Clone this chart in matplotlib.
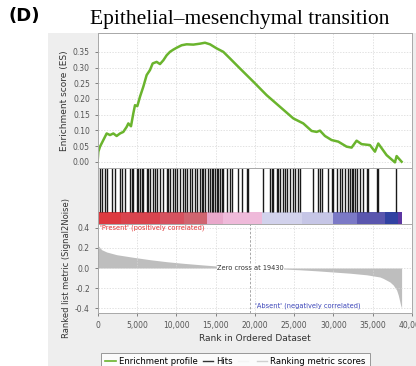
import matplotlib
matplotlib.use('Agg')
import matplotlib.pyplot as plt
from matplotlib.patches import Rectangle
from matplotlib.lines import Line2D
from matplotlib.ticker import FuncFormatter, MultipleLocator

# Running enrichment score (rank, ES)
es_rank = [0, 93, 305, 730, 1153, 1577, 2001, 2425, 2849, 3273, 3697, 3909, 4248,
           4545, 4757, 5054, 5393, 5817, 6241, 6665, 7004, 7513, 7937, 8361, 8785,
           9209, 9633, 10057, 10693, 11329, 12177, 13025, 13661, 14297, 15145,
           15993, 16841, 18113, 19809, 21505, 23201, 24897, 26169, 27229, 27865,
           28289, 28925, 29773, 30621, 31681, 32317, 32953, 33589, 34649, 35285,
           35709, 36769, 37829, 38045, 38253, 38677]
es_score = [0.0, 0.032, 0.048, 0.069, 0.090, 0.085, 0.090, 0.082, 0.090, 0.095,
            0.111, 0.122, 0.113, 0.154, 0.180, 0.177, 0.207, 0.239, 0.276, 0.292,
            0.313, 0.318, 0.311, 0.323, 0.339, 0.350, 0.357, 0.363, 0.371, 0.374,
            0.373, 0.376, 0.379, 0.374, 0.361, 0.350, 0.329, 0.297, 0.255, 0.212,
            0.175, 0.138, 0.122, 0.098, 0.095, 0.099, 0.082, 0.069, 0.064, 0.048,
            0.045, 0.067, 0.056, 0.053, 0.032, 0.058, 0.021, -0.002, 0.018, 0.012,
            0.0]

# Gene set hits (rank positions)
hits = [305, 517, 941, 1153, 1789, 2213, 2849, 3061, 3485, 4121, 4333, 4545, 4969,
        5181, 5393, 5605, 5817, 6241, 6453, 6665, 7089, 7301, 7513, 7937, 8361,
        8785, 8997, 9209, 9633, 9845, 10057, 10481, 10905, 11117, 11329, 11753,
        11965, 12389, 12601, 13025, 13237, 13449, 13661, 14085, 14297, 14509,
        14721, 14933, 15145, 15357, 15569, 15781, 15993, 16417, 16841, 17053,
        17901, 18325, 18961, 19173, 21081, 21929, 22141, 22353, 22777, 22989,
        23201, 23625, 23837, 24049, 24473, 24897, 25109, 25533, 25745, 27441,
        28077, 28289, 28501, 29349, 29773, 29985, 30409, 30833, 31045, 31469,
        31893, 32105, 32317, 32529, 32741, 32953, 33377, 33801, 34225, 34437,
        35497, 35709, 37957]

# Ranked list metric (rank, Signal2Noise)
metric_rank = [0, 10, 136, 517, 1153, 2425, 4545, 6665, 8785, 10905, 13025, 15145,
               17265, 19430, 21505, 23625, 25745, 27865, 29985, 32105, 34225,
               35921, 36340, 37193, 37610, 38041, 38250, 38550, 38677]
metric_value = [0.283, 0.25, 0.217, 0.183, 0.16, 0.133, 0.107, 0.083, 0.063, 0.047,
                0.033, 0.02, 0.01, 0.0, -0.004, -0.01, -0.018, -0.028, -0.04,
                -0.052, -0.068, -0.09, -0.104, -0.14, -0.17, -0.22, -0.27, -0.37,
                -0.40]

# colour bar bands under the hits
band_edges = [0, 3000, 8000, 11000, 13870, 16000, 20860, 26000, 29980, 33000,
              36560, 38250, 38677]
band_colors = ['#dd3a40', '#d9444e', '#d6525f', '#d0646f', '#e9a8cb', '#efbada',
               '#d2d2ec', '#c6c6e6', '#7b79c6', '#5a56ae', '#3142a2', '#5c36a2']

es_ticks = [0.0, 0.05, 0.10, 0.15, 0.20, 0.25, 0.30, 0.35]
metric_ticks = [-0.4, -0.2, 0.0, 0.2, 0.4]

zero_cross = 19430
green = '#6ab42d'
grid_kw = dict(color='#d6d6d6', lw=0.5, ls=(0, (2, 2)))
tick_color = '#555555'

fig = plt.figure(figsize=(4.16, 3.66), dpi=100)
fig.patches.append(Rectangle((48 / 416, 0), 1, 1 - 33 / 366, transform=fig.transFigure,
                             facecolor='#eeeeee', edgecolor='none', zorder=-10))

L, W = 97.6 / 416, (412 - 97.6) / 416
ax1 = fig.add_axes([L, 1 - 168 / 366, W, 135 / 366])
ax2 = fig.add_axes([L, 1 - 224 / 366, W, 56 / 366])
ax3 = fig.add_axes([L, 1 - 313 / 366, W, 89 / 366])

for ax in (ax1, ax2, ax3):
    ax.set_xlim(0, 40000)
    for s in ax.spines.values():
        s.set_color('#a8a8a8')
        s.set_linewidth(0.7)
    ax.tick_params(labelsize=5.5, colors=tick_color, length=2, width=0.5)

# Enrichment profile
ax1.plot(es_rank, es_score, color=green, lw=1.8)
ax1.set_ylim(-0.02, 0.41)
ax1.set_yticks(es_ticks)
ax1.yaxis.set_major_formatter(FuncFormatter(lambda v, p: '%.2f' % v))
ax1.xaxis.set_major_locator(MultipleLocator(5000))
ax1.tick_params(axis='x', length=0, labelbottom=False)
ax1.grid(True, **grid_kw)
ax1.set_ylabel('Enrichment score (ES)', fontsize=6.5, color='#333333', labelpad=3)

# Hits + colour bar
ax2.set_ylim(0, 1)
ax2.vlines(hits, 0.21, 1, color='#1a1a1a', lw=1.0)
for i, c in enumerate(band_colors):
    ax2.axvspan(band_edges[i], band_edges[i + 1], 0, 0.21, color=c, lw=0)
ax2.set_xticks([])
ax2.set_yticks([])

# Ranked list metric
ax3.fill_between(metric_rank, metric_value, 0, color='#bebebe', lw=0)
ax3.set_ylim(-0.45, 0.44)
ax3.set_yticks(metric_ticks)
ax3.yaxis.set_major_formatter(FuncFormatter(lambda v, p: '%.1f' % v))
ax3.xaxis.set_major_locator(MultipleLocator(5000))
ax3.xaxis.set_major_formatter(FuncFormatter(lambda v, p: '{:,.0f}'.format(v)))
ax3.grid(True, **grid_kw)
ax3.axvline(zero_cross, color='#999999', lw=0.6, ls=(0, (3, 2)))
ax3.text(zero_cross, 0.0, 'Zero cross at %d' % zero_cross, ha='center', va='center',
         fontsize=4.8, color='#333333',
         bbox=dict(facecolor='white', edgecolor='none', pad=0.3))
ax3.text(300, 0.435, "'Present' (positively correlated)", ha='left', va='top',
         fontsize=4.8, color='#e03434')
ax3.text(zero_cross + 600, -0.38, "'Absent' (negatively correlated)", ha='left',
         va='center', fontsize=4.8, color='#3a44b8')
ax3.set_ylabel('Ranked list metric (Signal2Noise)', fontsize=6, color='#333333',
               labelpad=3)
ax3.set_xlabel('Rank in Ordered Dataset', fontsize=6.5, color='#333333', labelpad=3)

fig.text(0.576, 0.948, 'Epithelial\u2013mesenchymal transition', ha='center',
         va='center', fontsize=15.5, family='Liberation Serif')
fig.text(8 / 416, 0.956, '(D)', ha='left', va='center', fontsize=13,
         fontweight='bold')

handles = [Line2D([], [], color=green, lw=1.2),
           Line2D([], [], color='#333333', lw=1.0),
           Line2D([], [], color='#f4f4f4', lw=1.0),
           Line2D([], [], color='#d0d0d0', lw=1.0)]
labels = ['Enrichment profile', 'Hits', '', 'Ranking metric scores']
leg = fig.legend(handles, labels, loc='center', bbox_to_anchor=(0.566, 0.012),
                 ncol=4, fontsize=6.1, frameon=True, fancybox=False,
                 handlelength=1.2, handletextpad=0.4, columnspacing=0.6,
                 borderpad=0.5, edgecolor='#808080')
leg.get_frame().set_linewidth(0.7)

plt.savefig('out.png', dpi=100)
